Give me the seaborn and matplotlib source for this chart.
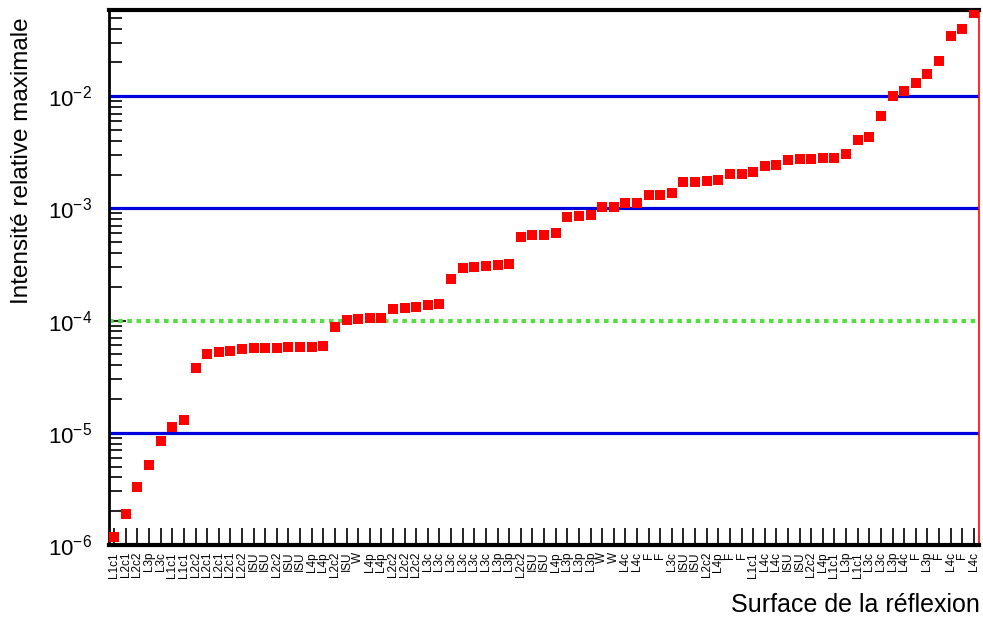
import numpy as np
import pandas as pd
import matplotlib
matplotlib.use('Agg')
import matplotlib.pyplot as plt
import seaborn as sns

# Surface labels (sorted by intensity)
surfaces = ['L1c1', 'L2c1', 'L2c2', 'L3p', 'L3c', 'L1c1', 'L1c1', 'L2c2', 'L2c1', 'L2c1',
            'L2c1', 'L2c2', 'ISU', 'ISU', 'L2c2', 'ISU', 'ISU', 'L4p', 'L4p', 'L2c2',
            'ISU', 'W', 'L4p', 'L4p', 'L2c2', 'L2c2', 'L2c2', 'L3c', 'L3c', 'L3c',
            'L3c', 'L3c', 'L3c', 'L3p', 'L3p', 'L2c2', 'ISU', 'ISU', 'L4p', 'L3p',
            'L3p', 'L3p', 'W', 'W', 'L4c', 'L4c', 'F', 'F', 'L3c', 'ISU',
            'ISU', 'L2c2', 'L4p', 'F', 'F', 'L1c1', 'L4c', 'L4c', 'ISU', 'ISU',
            'L2c2', 'L4p', 'L1c1', 'L3p', 'L1c1', 'L3c', 'L3c', 'L3p', 'L4c', 'F',
            'L3p', 'F', 'L4c', 'F', 'L4c']

# Maximum relative intensity
intensity = [1.18e-6, 1.9e-6, 3.3e-6, 5.2e-6, 8.5e-6, 1.13e-5, 1.31e-5, 3.8e-5, 5.07e-5, 5.2e-5,
             5.4e-5, 5.6e-5, 5.7e-5, 5.7e-5, 5.75e-5, 5.8e-5, 5.8e-5, 5.86e-5, 5.9e-5, 8.8e-5,
             1.02e-4, 1.03e-4, 1.05e-4, 1.06e-4, 1.28e-4, 1.3e-4, 1.32e-4, 1.37e-4, 1.4e-4, 2.37e-4,
             2.97e-4, 3.0e-4, 3.05e-4, 3.1e-4, 3.2e-4, 5.5e-4, 5.76e-4, 5.8e-4, 6.0e-4, 8.3e-4,
             8.5e-4, 8.7e-4, 1.02e-3, 1.03e-3, 1.11e-3, 1.12e-3, 1.31e-3, 1.31e-3, 1.36e-3, 1.71e-3,
             1.73e-3, 1.75e-3, 1.78e-3, 2.01e-3, 2.02e-3, 2.1e-3, 2.37e-3, 2.42e-3, 2.68e-3, 2.73e-3,
             2.74e-3, 2.8e-3, 2.8e-3, 3.03e-3, 4.05e-3, 4.3e-3, 6.6e-3, 1.0e-2, 1.11e-2, 1.31e-2,
             1.57e-2, 2.05e-2, 3.44e-2, 3.96e-2, 5.5e-2]

blue_levels = [1e-2, 1e-3, 1e-5]
green_level = 1e-4

df = pd.DataFrame({'pos': np.arange(len(surfaces)), 'intensity': intensity})

sns.set_style('ticks')
plt.rcParams['font.family'] = ['Liberation Sans', 'DejaVu Sans']
plt.rcParams['mathtext.default'] = 'regular'
plt.rcParams['text.color'] = 'black'
plt.rcParams['xtick.color'] = 'black'
plt.rcParams['ytick.color'] = 'black'

fig = plt.figure(figsize=(9.83, 6.22), dpi=100)
ax = fig.add_axes([0.1109, 0.1238, 0.8851, 0.8602])

for lvl in blue_levels:
    ax.axhline(lvl, color='#0000dd', lw=2.3, zorder=1)
ax.axhline(green_level, color='#55dd44', lw=3, ls=(0, (1.1, 1.1)), zorder=1)

sns.scatterplot(data=df, x='pos', y='intensity', marker='s', color='#ff0000',
                s=58, linewidth=0, ax=ax, zorder=3)

ax.set_yscale('log')
ax.set_ylim(1e-6, 0.0586)
ax.set_xlim(-0.45, len(surfaces) - 0.55)

ax.set_xticks(df['pos'])
ax.set_xticklabels(surfaces, rotation=90, fontsize=8.5)
ax.tick_params(axis='x', direction='in', length=12, width=1.2, pad=5, top=False)
ax.tick_params(axis='y', which='major', direction='in', length=12, width=1.2,
               labelsize=16, pad=12, right=False)
ax.tick_params(axis='y', which='minor', direction='in', length=9, width=1.2, right=False)

for side in ['left', 'bottom', 'top']:
    ax.spines[side].set_color('black')
ax.spines['left'].set_linewidth(2)
ax.spines['bottom'].set_linewidth(3)
ax.spines['top'].set_linewidth(3)
ax.spines['right'].set_color('#ff0000')
ax.spines['right'].set_linewidth(1.2)

ax.set_xlabel('')
ax.set_ylabel('')
fig.text(0.022, 0.972, 'Intensité relative maximale', rotation=90, va='top', ha='center',
         fontsize=17.5, color='black')
fig.text(0.997, 0.008, 'Surface de la réflexion', ha='right', va='bottom', fontsize=18,
         color='black')

plt.savefig('out.png', dpi=100)
plt.close()
